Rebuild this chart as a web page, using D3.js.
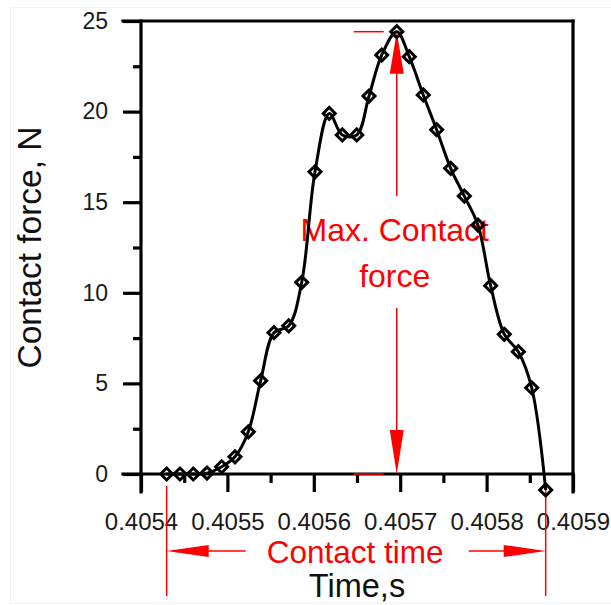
<!DOCTYPE html>
<html>
<head>
<meta charset="utf-8">
<script src="https://cdn.jsdelivr.net/npm/d3@7"></script>
<style>
  html, body { margin: 0; padding: 0; background: #fff; }
  svg text { font-family: "Liberation Sans", Arial, sans-serif; }
</style>
</head>
<body>
<div id="chart"></div>
<script>
// contact time samples (s) and contact force (N)
var times = [0.4054297, 0.4054451, 0.4054605, 0.4054764, 0.4054934, 0.4055088,
  0.4055242, 0.4055385, 0.4055539, 0.4055710, 0.4055860, 0.4056014, 0.4056179,
  0.4056330, 0.4056497, 0.4056639, 0.4056786, 0.4056960, 0.4057105, 0.4057267,
  0.4057422, 0.4057584, 0.4057742, 0.4057900, 0.4058047, 0.4058205, 0.4058367,
  0.4058522, 0.4058684];
var forces = [0, 0, 0, 0.05, 0.40, 0.95, 2.33, 5.15, 7.80, 8.18, 10.58, 16.68,
  19.90, 18.71, 18.71, 20.86, 23.12, 24.41, 23.03, 20.92, 19.00, 16.87, 15.34,
  13.74, 10.39, 7.71, 6.75, 4.76, -0.88];

var xTicks = [0.4054, 0.4055, 0.4056, 0.4057, 0.4058, 0.4059];
var xMinor = [0.40545, 0.40555, 0.40565, 0.40575, 0.40585];
var yTicks = [0, 5, 10, 15, 20, 25];
var yMinor = [2.5, 7.5, 12.5, 17.5, 22.5];

var xTitle = "Time,s";
var yTitle = "Contact force, N";
var forceNote = ["Max. Contact", "force"];
var timeNote = "Contact time";

var width = 611, height = 605;
var red = "#ff0000";

var svg = d3.select("#chart").append("svg")
  .attr("width", width)
  .attr("height", height);

// faint frame round the picture
svg.append("rect")
  .attr("x", 10.5).attr("y", 7.5)
  .attr("width", 602).attr("height", 596)
  .style("fill", "none")
  .style("stroke", "#f2f2f2");

var x = d3.scaleLinear().domain([0.4054, 0.4059]).range([141, 573]);
var y = d3.scaleLinear().domain([0, 25]).range([474, 21]);

var data = times.map(function(t, i) { return { t: t, f: forces[i] }; });

// axes
var yAxis = d3.axisLeft(y).tickValues(yTicks).tickSize(18).tickSizeOuter(0)
  .tickPadding(15).tickFormat(d3.format("d"));
var gy = svg.append("g").attr("transform", "translate(" + x(0.4054) + ",0)").call(yAxis);
gy.select(".domain").remove();
gy.selectAll(".tick line").style("stroke-width", 3.2);
gy.selectAll("text").style("font-size", "23px").style("fill", "#1a1a1a");

var yAxisMinor = d3.axisLeft(y).tickValues(yMinor).tickSize(8).tickFormat("");
var gym = svg.append("g").attr("transform", "translate(" + x(0.4054) + ",0)").call(yAxisMinor);
gym.select(".domain").remove();
gym.selectAll(".tick line").style("stroke-width", 3.2);

var xAxis = d3.axisBottom(x).tickValues(xTicks).tickSize(18).tickSizeOuter(0)
  .tickPadding(21).tickFormat(d3.format(".4f"));
var gx = svg.append("g").attr("transform", "translate(0," + y(0) + ")").call(xAxis);
gx.select(".domain").remove();
gx.selectAll(".tick line").style("stroke-width", 3.2);
gx.selectAll("text").style("font-size", "24px").style("fill", "#1a1a1a");

var xAxisMinor = d3.axisBottom(x).tickValues(xMinor).tickSize(9).tickFormat("");
var gxm = svg.append("g").attr("transform", "translate(0," + y(0) + ")").call(xAxisMinor);
gxm.select(".domain").remove();
gxm.selectAll(".tick line").style("stroke-width", 3.2);

// frame lines
var frame = svg.append("g").style("stroke", "#000").style("stroke-width", 3.2)
  .style("stroke-linecap", "square");
frame.append("line").attr("x1", x(0.4054)).attr("x2", x(0.4054)).attr("y1", y(25)).attr("y2", y(0) + 18);
frame.append("line").attr("x1", x(0.4059)).attr("x2", x(0.4059)).attr("y1", y(25)).attr("y2", y(0) + 18);
frame.append("line").attr("x1", x(0.4054) - 18).attr("x2", x(0.4059)).attr("y1", y(25)).attr("y2", y(25));
frame.append("line").attr("x1", x(0.4054) - 18).attr("x2", x(0.4059)).attr("y1", y(0)).attr("y2", y(0));

// axis titles
svg.append("text")
  .attr("transform", "translate(41," + ((y(0) + y(25)) / 2) + ") rotate(-90)")
  .attr("text-anchor", "middle")
  .style("font-size", "33.5px")
  .style("fill", "#111")
  .text(yTitle);

svg.append("text")
  .attr("x", (x(0.4054) + x(0.4059)) / 2)
  .attr("y", 597)
  .attr("text-anchor", "middle")
  .style("font-size", "32.5px")
  .style("fill", "#111")
  .text(xTitle);

// red annotation: max force
var peak = data[d3.maxIndex(data, function(d) { return d.f; })];
var px = x(peak.t), py = y(peak.f);
var first = data[0], last = data[data.length - 1];
var note = svg.append("g");

note.append("line").attr("x1", px - 43).attr("x2", px - 13).attr("y1", py).attr("y2", py)
  .style("stroke", red).style("stroke-width", 1.5);
note.append("line").attr("x1", px - 43).attr("x2", px - 13).attr("y1", y(0)).attr("y2", y(0))
  .style("stroke", red).style("stroke-width", 1.5);
note.append("line").attr("x1", px).attr("x2", px).attr("y1", py + 40).attr("y2", 196)
  .style("stroke", red).style("stroke-width", 1.5);
note.append("line").attr("x1", px).attr("x2", px).attr("y1", 308).attr("y2", y(0) - 40)
  .style("stroke", red).style("stroke-width", 1.5);
note.append("path")
  .attr("d", "M" + px + "," + py + "L" + (px + 7) + "," + (py + 42) + "L" + (px - 7) + "," + (py + 42) + "Z")
  .style("fill", red);
note.append("path")
  .attr("d", "M" + px + "," + y(0) + "L" + (px + 7) + "," + (y(0) - 44) + "L" + (px - 7) + "," + (y(0) - 44) + "Z")
  .style("fill", red);

note.selectAll("text.fnote").data(forceNote).enter().append("text")
  .attr("class", "fnote")
  .attr("x", px - 2)
  .attr("y", function(d, i) { return 241 + i * 46; })
  .attr("text-anchor", "middle")
  .style("font-size", "32px")
  .style("fill", red)
  .text(function(d) { return d; });

// red annotation: contact time
var sx = x(first.t), ex = x(last.t), ay = 551;
note.append("line").attr("x1", sx).attr("x2", sx).attr("y1", 486).attr("y2", 596)
  .style("stroke", red).style("stroke-width", 1.5);
note.append("line").attr("x1", ex).attr("x2", ex).attr("y1", 486).attr("y2", 596)
  .style("stroke", red).style("stroke-width", 1.5);
note.append("line").attr("x1", sx + 40).attr("x2", sx + 79).attr("y1", ay).attr("y2", ay)
  .style("stroke", red).style("stroke-width", 1.5);
note.append("line").attr("x1", ex - 77).attr("x2", ex - 40).attr("y1", ay).attr("y2", ay)
  .style("stroke", red).style("stroke-width", 1.5);
note.append("path")
  .attr("d", "M" + sx + "," + ay + "L" + (sx + 42) + "," + (ay - 6) + "L" + (sx + 42) + "," + (ay + 6) + "Z")
  .style("fill", red);
note.append("path")
  .attr("d", "M" + ex + "," + ay + "L" + (ex - 42) + "," + (ay - 6) + "L" + (ex - 42) + "," + (ay + 6) + "Z")
  .style("fill", red);
note.append("text")
  .attr("x", (sx + ex) / 2 - 1)
  .attr("y", 563)
  .attr("text-anchor", "middle")
  .style("font-size", "31.5px")
  .style("fill", red)
  .text(timeNote);

// data line and diamond markers
var line = d3.line()
  .x(function(d) { return x(d.t); })
  .y(function(d) { return y(d.f); })
  .curve(d3.curveCatmullRom.alpha(0.5));

svg.append("path")
  .datum(data)
  .attr("d", line)
  .style("fill", "none")
  .style("stroke", "#000")
  .style("stroke-width", 3);

var diamond = d3.symbol().type(d3.symbolSquare).size(72);
svg.selectAll(".pt").data(data).enter().append("path")
  .attr("class", "pt")
  .attr("d", diamond)
  .attr("transform", function(d) { return "translate(" + x(d.t) + "," + y(d.f) + ") rotate(45)"; })
  .style("fill", "none")
  .style("stroke", "#000")
  .style("stroke-width", 3);
</script>
</body>
</html>
